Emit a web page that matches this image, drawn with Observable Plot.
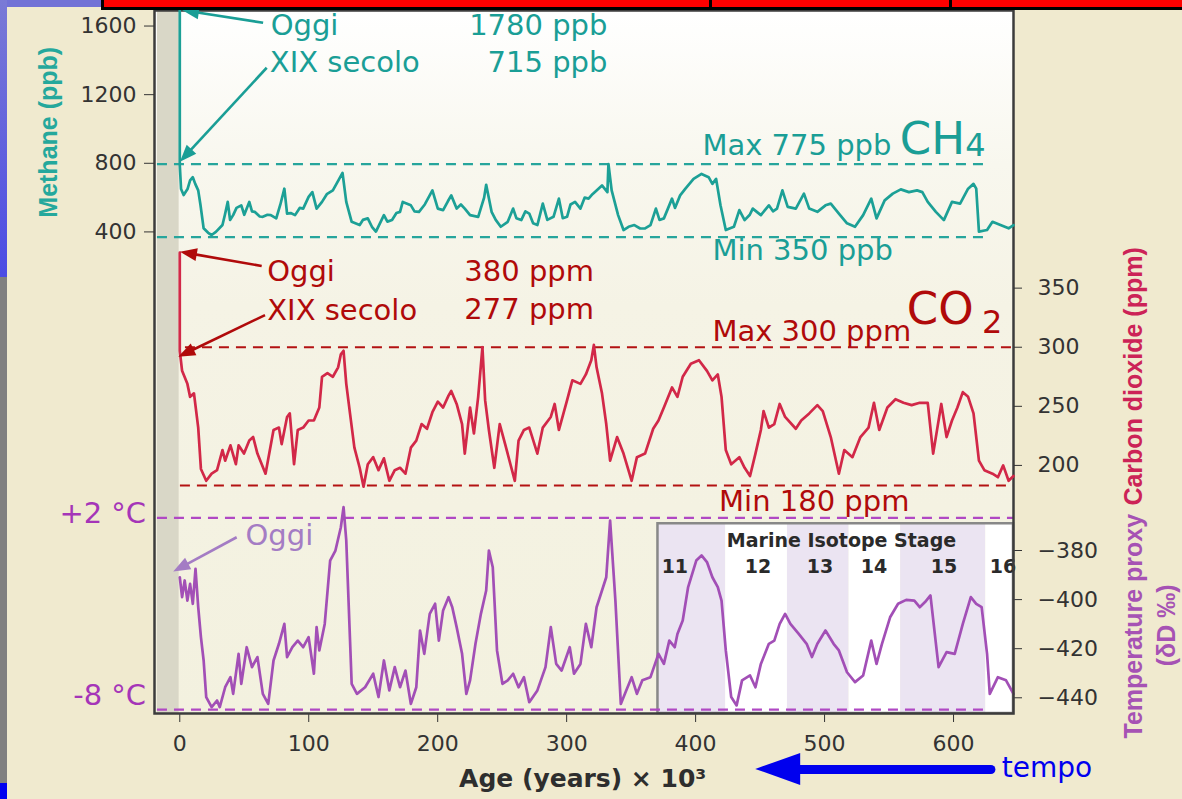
<!DOCTYPE html>
<html><head><meta charset="utf-8">
<script src="https://cdn.jsdelivr.net/npm/d3@7"></script>
<script src="https://cdn.jsdelivr.net/npm/@observablehq/plot@0.6"></script>
<style>
html,body{margin:0;padding:0;width:1182px;height:799px;overflow:hidden;background:#f0eacf;}
#stage{position:relative;width:1182px;height:799px;}
.abs{position:absolute;}
#plots svg{position:absolute;left:0;top:0;}
</style></head><body><div id="stage">
<div class="abs" style="left:0;top:0;width:7px;height:277px;background:linear-gradient(#7a7ad6,#4b4be4)"></div>
<div class="abs" style="left:0;top:277px;width:7px;height:506px;background:#808080"></div>
<div class="abs" style="left:0;top:783px;width:7px;height:16px;background:#0000f0"></div>
<div class="abs" style="left:7px;top:0;width:94px;height:7px;background:#7272d6"></div>
<div class="abs" style="left:154px;top:10px;width:859px;height:703px;background:linear-gradient(#ffffff 0%,#f8f7ee 22%,#f5f3e5 42%,#f3f1df 100%)"></div>
<div id="plots" class="abs" style="left:0;top:0;width:1182px;height:799px"></div>
<div class="abs" style="left:101px;top:0;width:1078px;height:7px;background:#ff0000;border-left:3px solid #000;border-bottom:3px solid #000"></div>
<div class="abs" style="left:709px;top:0;width:3px;height:10px;background:#000"></div>
<div class="abs" style="left:949px;top:0;width:3px;height:10px;background:#000"></div>
</div>
<script>
// ---------- DATA ----------
const ch4Age = [0,0,1,3,6,8,10.1,12,14.3,16,18.5,22,24.7,28,33.1,35,37.2,39,41.4,44,47.7,50,53.9,56,58.1,62,64.4,68,70.6,74.8,78,81.1,83.2,86,89.4,93,95.7,99.9,102.8,106.1,110.3,114,118.7,123,126.2,129.1,133.3,139.5,142,145.8,149,152.1,158.3,161,164.6,168,170.8,172.9,179.2,182,185.5,190,195.9,200.1,204.2,208,210.5,214.7,218,221,225.1,231.4,236,237.6,241.8,245,248.9,254.3,258.5,261,264.8,268,271,274,277.3,281.5,285,289.8,294,297,300.3,303,306.5,310.7,314,317,320,323.2,327.4,331.6,332.4,334.9,339.9,344.1,348,352.5,357,360.8,365,369.2,372,375.4,381.7,384,388,392.1,398.4,404.6,410.1,413,415.9,419.3,423.4,429.7,433.9,438,442,444.3,450.6,456.8,460,463.1,467.3,471.4,477.7,484,488.1,494.4,500.7,504.8,511.1,517.4,523.6,529.9,536.2,540.3,546.6,552.9,559.1,565.4,571.7,575.8,580,586.3,592.5,598.8,605.1,611.3,615.5,617.6,619.7,626,630.2,636.4,642.7,646.5];
const ch4Val = [1780,790,650,615,650,700,719,680,642,560,421,395,382,400,440,500,575,470,498,540,555,500,575,520,517,490,488,500,498,479,560,652,507,510,498,540,536,604,632,536,575,620,642,700,744,575,459,440,470,479,430,402,498,460,469,510,517,575,555,520,517,560,642,536,527,580,613,536,560,536,498,488,600,675,517,470,430,459,536,480,469,520,507,450,440,565,470,488,594,480,488,560,575,536,600,594,620,642,671,632,796,642,498,411,430,440,420,421,440,536,470,479,594,540,613,652,709,738,719,680,709,555,411,430,527,469,500,536,498,555,520,536,642,546,536,623,536,517,555,565,507,450,430,498,594,479,584,623,648,632,642,632,575,517,469,575,565,652,680,652,402,411,459,440,421,440];

const co2Age = [0,0,1.8,5.9,8,11,14.3,16.4,20.5,24.7,28.9,33.1,35.2,39.3,43.5,45.6,49.8,53.9,56.9,60.2,66.5,72.7,76.9,79,83.2,85.3,88.6,91.5,95.7,99.9,104,108.2,110.3,114.5,118.7,122.8,124.9,127,129.1,132,135.4,139.5,142.5,145.8,150,154.1,158.3,162.5,166.7,170.8,175,179.2,183.4,187.5,191.7,195.9,200.1,204.2,208.4,210.5,214.7,218.9,221,225.1,228.1,231.4,234.7,236.8,239.7,243.9,248.1,252.3,256.4,259.8,262.7,266.9,271,277.3,281.5,287.7,290.7,294,300.3,304.4,310.7,314.9,319.1,321.1,323.2,327.4,330.7,333.7,339.1,344.1,350.4,354.5,360.8,367.1,371.2,375.4,381.7,385.9,390,396.3,402.6,408.8,413,417.2,420.1,423.4,427.6,433.9,438,442.2,446.4,450.6,452.7,456.8,461,465.2,469.4,477.7,481.9,488.1,494.4,498.6,504.8,511.1,515.3,521.6,527.8,534.1,538.3,542.4,548.7,555,561.2,567.5,573.8,580,584.2,590.5,594.6,598.8,603,607.2,611.3,615.5,619.7,623.9,630.2,634.4,638.5,642.7,646.5];
const co2Val = [380,297,280,269,258,261,232,197,187,193,196,213,204,217,201,217,210,221,224,210,193,230,232,218,241,244,201,230,232,238,238,249,275,278,275,283,294,297,269,244,215,198,182,201,207,196,206,187,196,198,193,215,221,235,231,245,254,249,259,263,252,235,210,249,227,258,300,255,230,198,235,218,201,187,221,230,232,210,232,241,252,230,255,272,269,277,289,302,283,261,235,204,224,210,187,207,210,231,238,249,266,258,275,286,289,280,272,277,258,213,201,207,198,191,210,230,246,232,235,252,241,231,238,244,251,246,224,193,213,207,224,232,253,230,249,256,253,251,253,253,210,252,224,238,249,262,258,244,204,196,193,190,200,187,191];

const tAge = [0,1.8,3.8,5.9,8,10.1,12.2,14.3,16.4,18.5,20.5,24.7,28.9,31,35.2,39.3,41.4,45.6,47.7,51.9,56,60.2,64.4,68.6,72.7,76.9,81.1,83.2,87.3,91.5,95.7,99.9,104,106.1,108.2,112.4,116.6,120.7,124.9,127,129.1,133.3,137.4,143.7,150,154.1,158.3,162.5,166.7,170.8,175,179.2,183.4,186.3,189.6,193.8,198,200.9,204.2,208.4,211.3,214.7,218.9,222.2,225.1,229.3,233.5,237.6,239.7,242.7,246,250.2,254.3,258.5,262.7,266.9,271,277.3,283.6,287.7,291.9,296.1,302.4,305.7,310.7,314.9,319.1,323.2,327.4,330.7,333.7,337.8,342,346.2,350.4,354.5,358.7,365,371.2,375.4,379.6,383.8,385.9,390,394.2,400.5,404.6,408.8,413,417.2,420.1,423.4,427.6,431.8,436,442.2,446.4,450.6,456.8,461,465.2,469.4,473.5,479.8,486.1,490.2,494.4,500.7,507,511.1,517.4,523.6,529.9,536.2,540.3,544.5,550.8,557,563.3,569.6,573.8,577.9,582.1,588.4,594.6,600.9,607.2,613.4,617.6,621.8,626,628.1,634.4,640.7,646.5];
const tVal = [-390.9,-399,-392.2,-400.4,-393.6,-401.7,-387.5,-403.1,-415.3,-424.8,-439.7,-443.8,-441.1,-443.8,-435.7,-431.6,-438.4,-422.1,-434.3,-419.4,-427.5,-423.4,-438.4,-442.5,-424.8,-418,-409.9,-423.4,-419.4,-416.7,-419.4,-415.3,-430.2,-411.2,-420.7,-409.9,-384.1,-380,-370.5,-362.3,-375.9,-434.3,-438.4,-435.7,-430.2,-439.7,-424.8,-437,-427.5,-435.7,-428.9,-442.5,-435.7,-412.6,-422.1,-405.8,-401.7,-416.7,-404.4,-399,-403.1,-411.2,-422.1,-438.4,-432.9,-418,-405.8,-396.3,-380,-386.8,-420.7,-434.3,-432.9,-430.2,-435.7,-431.6,-441.8,-437,-427.5,-411.2,-426.2,-428.9,-419.4,-430.2,-426.2,-409.9,-419.4,-403.1,-396.3,-390.9,-367.8,-400.4,-442.5,-437,-431.6,-438.4,-432.9,-431.6,-422.1,-426.2,-416.7,-419.4,-414,-408.5,-394.9,-384.1,-382,-384.7,-390.9,-394.9,-400.4,-420.7,-439.7,-443.1,-432.9,-430.9,-435.7,-426.2,-418,-416.7,-409.9,-405.8,-409.9,-413.9,-418,-423.4,-418,-412.6,-418,-420.7,-429.6,-433.6,-430.9,-416.7,-426.2,-418,-407.2,-401.7,-400.1,-400.4,-403.1,-401,-398.3,-427.5,-421.4,-422.1,-409.9,-399,-401.7,-403.1,-422.1,-438.4,-431.6,-432.9,-438.4];

const xTicks = [0,100,200,300,400,500,600];
const ch4Ticks = [400,800,1200,1600];
const co2Ticks = [200,250,300,350];
const dDTicks = [-380,-400,-420,-440];

const misStage = ["11","12","13","14","15","16"];
const misStart = [370.8,423.3,471.2,519,559,625];
const misEnd   = [423.3,471.2,519,559,625,646.5];
const misLabelAge = [383.9,448.3,496.4,538.3,592.6,638.4];
const misTop = -369.1;

const ch4Refs = [{v:795,x1:-17.3,x2:627.4},{v:370,x1:-17.3,x2:627.4}];
const co2Refs = [{v:300,x1:4.4,x2:646.5},{v:183,x1:0.5,x2:646.5}];
const tRefs = [{v:-366.7,x1:-17.3,x2:646.5},{v:-444.8,x1:-17.3,x2:627.8}];

const ch4Notes = [
  {t:"Oggi",x:70.5,y:1604,a:"start"},
  {t:"XIX secolo",x:69.8,y:1384,a:"start"},
  {t:"1780 ppb",x:331.6,y:1604,a:"end"},
  {t:"715 ppb",x:331.6,y:1384,a:"end"},
  {t:"Max 775 ppb",x:405.3,y:900,a:"start"},
  {t:"Min 350 ppb",x:413,y:290,a:"start"}];
const ch4Arrows = [{x1:65,y1:1616,x2:2.1,y2:1690},{x1:67.8,y1:1354,x2:0.5,y2:806}];
const co2Notes = [
  {t:"Oggi",x:67.8,y:364,a:"start"},
  {t:"XIX secolo",x:67.8,y:331,a:"start"},
  {t:"380 ppm",x:321.2,y:364,a:"end"},
  {t:"277 ppm",x:321.2,y:331.9,a:"end"},
  {t:"Max 300 ppm",x:413,y:313.3,a:"start"},
  {t:"Min 180 ppm",x:418.2,y:169.6,a:"start"}];
const co2Arrows = [{x1:63.9,y1:368.3,x2:0.5,y2:380.4},{x1:66.5,y1:326.8,x2:-0.8,y2:291.5}];
const tNotes = [{t:"+2 °C",x:-26.1,y:-365},{t:"-8 °C",x:-26.1,y:-439.1}];
const tOggi = [{t:"Oggi",x:51,y:-373.9}];
const tArrows = [{x1:44.5,y1:-374.8,x2:-4.7,y2:-388.8}];
const todayBand = [{x1:-17.3,x2:-0.5}];

// ---------- BUILD ----------
const ch4 = ch4Age.map((a,i)=>({age:a,v:ch4Val[i]}));
const co2 = co2Age.map((a,i)=>({age:a,v:co2Val[i]}));
const temp = tAge.map((a,i)=>({age:a,v:tVal[i]}));
const mis = misStage.map((s,i)=>({s,start:misStart[i],end:misEnd[i],lab:misLabelAge[i],odd:(+s)%2===1}));

const FONT = "DejaVu Sans";
const common = {width:1182,height:799,marginLeft:154,marginRight:169,marginTop:10,marginBottom:86,
  style:{background:"transparent",overflow:"visible",fontFamily:FONT,fontSize:"22px",color:"#333"}};
const xs = {domain:[-19.6,646.5]};
const dDdom = [-446.4,-160];
const fmt = d => String(d).replace("-", "\u2212");

const TEAL="#1a9e96", DRED="#b00a0a", PURP="#a535b8";

function notes(arr, fill, size) {
  return [
    Plot.text(arr.filter(d=>d.a==="start"),{x:"x",y:"y",text:"t",textAnchor:"start",fill,fontSize:size,fontFamily:FONT}),
    Plot.text(arr.filter(d=>d.a==="end"),{x:"x",y:"y",text:"t",textAnchor:"end",fill,fontSize:size,fontFamily:FONT})
  ];
}
// arrows with filled heads, positioned through the plot's own scales
function filledArrows(data, color) {
  return (index, scales) => {
    const g = d3.create("svg:g");
    for (const d of data) {
      const x1 = scales.x(d.x1), y1 = scales.y(d.y1), x2 = scales.x(d.x2), y2 = scales.y(d.y2);
      const dx = x2 - x1, dy = y2 - y1, L = Math.hypot(dx, dy), ux = dx / L, uy = dy / L;
      const hl = 17, hw = 6.5, bx = x2 - ux * hl, by = y2 - uy * hl;
      g.append("line").attr("x1", x1).attr("y1", y1).attr("x2", bx + ux * 3).attr("y2", by + uy * 3)
        .attr("stroke", color).attr("stroke-width", 2.6);
      g.append("path").attr("d", `M${x2},${y2}L${bx - uy * hw},${by + ux * hw}L${bx + uy * hw},${by - ux * hw}Z`)
        .attr("fill", color);
    }
    return g.node();
  };
}

const pTemp = Plot.plot({...common,
  x:{...xs, ticks:xTicks, tickSize:9, tickPadding:13, label:null, tickFormat:fmt},
  y:{domain:dDdom, axis:"right", ticks:dDTicks, tickSize:8, tickPadding:16, label:null, tickFormat:fmt},
  marks:[
    Plot.rect(todayBand,{x1:"x1",x2:"x2",y1:dDdom[0],y2:dDdom[1],fill:"#d9d7c7"}),
    Plot.rect(mis,{x1:"start",x2:"end",y1:dDdom[0],y2:misTop,fill:d=>d.odd?"#ebe4f2":"#ffffff"}),
    Plot.rect([mis[0]],{x1:"start",x2:misEnd[5],y1:dDdom[0],y2:misTop,fill:"none",stroke:"#888",strokeWidth:2.5}),
    Plot.ruleY(tRefs,{y:"v",x1:"x1",x2:"x2",stroke:"#b048c4",strokeWidth:2.2,strokeDasharray:"10,7"}),
    Plot.line(temp,{x:"age",y:"v",stroke:"#a24fb6",strokeWidth:2.7}),
    Plot.text(["Marine Isotope Stage"],{x:513.1,y:-376.2,text:d=>d,fontFamily:FONT,fontWeight:"bold",fontSize:19,fill:"#2a2a2a"}),
    Plot.text(mis,{x:"lab",y:-386.8,text:"s",fontFamily:FONT,fontWeight:"bold",fontSize:19,fill:"#2a2a2a"}),
    Plot.frame({stroke:"#3c3c3c",strokeWidth:2.5}),
    Plot.text(tNotes,{x:"x",y:"y",text:"t",textAnchor:"end",fill:PURP,fontSize:29,fontFamily:FONT}),
    Plot.text(tOggi,{x:"x",y:"y",text:"t",textAnchor:"start",fill:"#a47cc4",fontSize:29,fontFamily:FONT}),
    filledArrows(tArrows, "#a47cc4"),
    Plot.text(["Temperature proxy"],{x:739.8,y:-456.6,text:d=>d,rotate:-90,textAnchor:"start",fill:"#a652b4",fontFamily:"Liberation Sans",fontWeight:"bold",fontSize:25}),
    Plot.text(["Carbon dioxide (ppm)"],{x:739.8,y:-361.7,text:d=>d,rotate:-90,textAnchor:"start",fill:"#cc2357",fontFamily:"Liberation Sans",fontWeight:"bold",fontSize:25}),
    Plot.text(["(δD ‰)"],{x:765.4,y:-410.5,text:d=>d,rotate:-90,fill:"#a652b4",fontFamily:"Liberation Sans",fontWeight:"bold",fontSize:25}),
    Plot.text(["Age (years) × 10³"],{x:312.4,y:-472.9,text:d=>d,fill:"#2e2e2e",fontFamily:FONT,fontWeight:"bold",fontSize:25}),
    Plot.line([{a:629,v:-469.2},{a:478,v:-469.2}],{x:"a",y:"v",stroke:"#0000ee",strokeWidth:9}),
    Plot.areaY([{a:446.6,lo:-469.2,hi:-469.2},{a:481.5,lo:-475.7,hi:-462.7}],{x:"a",y1:"lo",y2:"hi",fill:"#0000ee"}),
    Plot.text(["tempo"],{x:637.4,y:-468.8,text:d=>d,textAnchor:"start",fill:"#0000ee",fontFamily:FONT,fontSize:28})
  ]});

const pCO2 = Plot.plot({...common,
  x:{...xs, axis:null},
  y:{domain:[-9.9,584.9], axis:"right", ticks:co2Ticks, tickSize:8, tickPadding:16, label:null, tickFormat:fmt},
  marks:[
    Plot.ruleY(co2Refs,{y:"v",x1:"x1",x2:"x2",stroke:"#b31212",strokeWidth:2.2,strokeDasharray:"10,7"}),
    Plot.line(co2,{x:"age",y:"v",stroke:"#d22848",strokeWidth:2.7}),
    ...notes(co2Notes, DRED, 29),
    filledArrows(co2Arrows, DRED),
    Plot.text(["CO"],{x:563.8,y:331.5,text:d=>d,textAnchor:"start",fill:DRED,fontSize:45,fontFamily:FONT}),
    Plot.text(["2"],{x:622,y:320.5,text:d=>d,textAnchor:"start",fill:DRED,fontSize:32,fontFamily:FONT})
  ]});

const pCH4 = Plot.plot({...common,
  x:{...xs, axis:null},
  y:{domain:[-2407,1690.6], axis:"left", ticks:ch4Ticks, tickSize:10, tickPadding:8, label:null, tickFormat:fmt},
  marks:[
    Plot.ruleY(ch4Refs,{y:"v",x1:"x1",x2:"x2",stroke:"#26a59c",strokeWidth:2.2,strokeDasharray:"10,7"}),
    Plot.line(ch4,{x:"age",y:"v",stroke:"#1ca096",strokeWidth:2.7}),
    ...notes(ch4Notes, TEAL, 29),
    filledArrows(ch4Arrows, TEAL),
    Plot.text(["CH"],{x:558.3,y:940,text:d=>d,textAnchor:"start",fill:TEAL,fontSize:45,fontFamily:FONT}),
    Plot.text(["4"],{x:609,y:905,text:d=>d,textAnchor:"start",fill:TEAL,fontSize:32,fontFamily:FONT}),
    Plot.text(["Methane (ppb)"],{x:-101.1,y:980.7,text:d=>d,rotate:-90,fill:"#25a89c",fontFamily:"Liberation Sans",fontWeight:"bold",fontSize:25})
  ]});

const host = document.getElementById("plots");
host.appendChild(pTemp); host.appendChild(pCO2); host.appendChild(pCH4);
</script>
</body></html>
